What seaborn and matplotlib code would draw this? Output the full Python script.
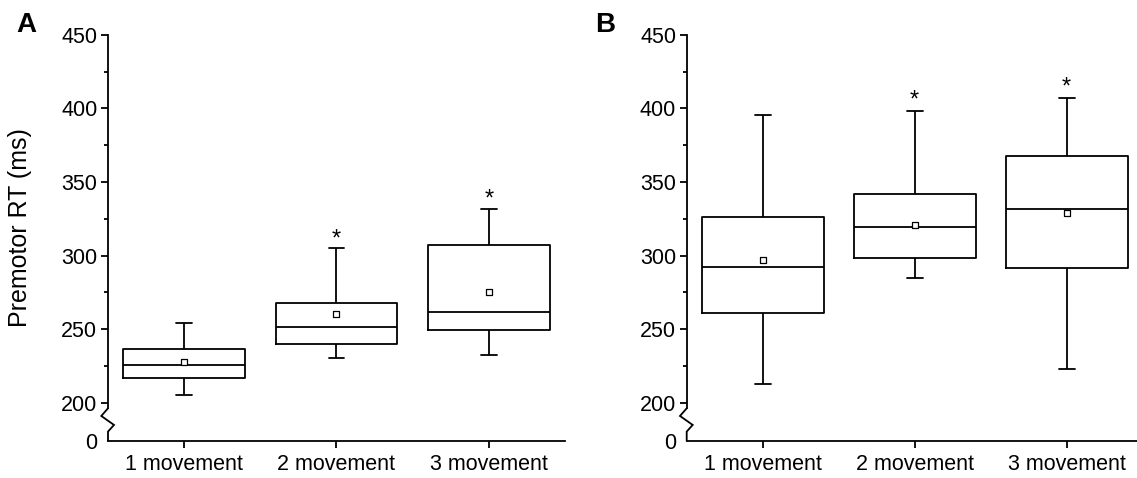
import numpy as np
import pandas as pd
import matplotlib
matplotlib.use("Agg")
import matplotlib.pyplot as plt
import matplotlib.transforms as mtransforms
import seaborn as sns

# ---------------- data ----------------
categories = ["1 movement", "2 movement", "3 movement"]

# Panel A: whisker low, Q1, median, Q3, whisker high, mean
a_low = [205.0, 230.4, 232.6]
a_q1 = [216.6, 239.9, 249.2]
a_med = [225.8, 251.6, 261.4]
a_q3 = [236.7, 267.5, 306.9]
a_high = [254.0, 305.3, 331.8]
a_mean = [227.4, 260.5, 275.0]
a_star = [None, 316.0, 343.0]

# Panel B
b_low = [212.9, 284.5, 222.7]
b_q1 = [260.9, 298.1, 291.7]
b_med = [292.2, 319.6, 331.4]
b_q3 = [326.4, 342.0, 367.6]
b_high = [395.7, 398.4, 406.8]
b_mean = [297.1, 320.7, 328.7]
b_star = [None, 410.0, 418.7]

major_ticks = [200, 250, 300, 350, 400, 450]
minor_ticks = [225, 275, 325, 375, 425]
zero_label = "0"
ylabel = "Premotor RT (ms)"
panel_labels = ["A", "B"]

# ---------------- style ----------------
sns.set_style("ticks")
plt.rcParams["font.family"] = ["Liberation Sans", "DejaVu Sans"]
plt.rcParams["text.color"] = "black"
plt.rcParams["axes.labelcolor"] = "black"
plt.rcParams["axes.linewidth"] = 1.3
plt.rcParams["xtick.major.width"] = 1.3
plt.rcParams["ytick.major.width"] = 1.3
plt.rcParams["ytick.minor.width"] = 1.3
plt.rcParams["xtick.major.size"] = 5
plt.rcParams["ytick.major.size"] = 4.7
plt.rcParams["ytick.minor.size"] = 2.6
plt.rcParams["xtick.color"] = "black"
plt.rcParams["ytick.color"] = "black"
plt.rcParams["axes.edgecolor"] = "black"

ZERO_POS = 174.2      # where the broken axis shows "0"
YTOP = 450

W, H = 1137, 478
fig = plt.figure(figsize=(W / 100, H / 100), dpi=100)

axA = fig.add_axes([108 / W, 1 - 440.7 / H, 457 / W, 406 / H])
axB = fig.add_axes([686.7 / W, 1 - 440.7 / H, 450.3 / W, 406 / H])


def long_frame(low, q1, med, q3, high):
    rows = []
    for i, c in enumerate(categories):
        for v in (low[i], q1[i], med[i], q3[i], high[i]):
            rows.append({"cond": c, "rt": v})
    return pd.DataFrame(rows)


def draw_panel(ax, low, q1, med, q3, high, mean, star, xmax):
    df = long_frame(low, q1, med, q3, high)
    sns.boxplot(data=df, x="cond", y="rt", order=categories, ax=ax,
                fill=False, color="black", linecolor="black", linewidth=1.3,
                width=0.8, whis=(0, 100), showfliers=False, capwidths=0.105)
    ax.scatter(np.arange(len(categories)), mean, marker="s", s=14,
               facecolor="white", edgecolor="black", linewidth=0.9, zorder=5)
    for i, s in enumerate(star):
        if s is not None:
            ax.text(i, s - 9, "*", ha="center", va="baseline", fontsize=17,
                    color="black")
    ax.set_xlim(-0.5, xmax)
    ax.set_ylim(ZERO_POS, YTOP)
    ax.set_yticks([ZERO_POS] + major_ticks)
    ax.set_yticklabels([zero_label] + [str(t) for t in major_ticks])
    ax.set_yticks(minor_ticks, minor=True)
    ax.yaxis.get_major_ticks()[0].tick1line.set_visible(False)
    ax.tick_params(axis="both", labelsize=15.5, direction="out",
                   labelcolor="black")
    ax.tick_params(axis="y", pad=3.0)
    ax.tick_params(axis="x", pad=4.5)
    ax.set_xlabel("")
    ax.set_ylabel("")
    sns.despine(ax=ax)
    ax.spines["bottom"].set_bounds(-0.5, xmax)

    # axis break: zig-zag on the y axis between 200 and "0"
    axw = ax.get_position().width * W
    ytop_break = 196.2
    ax.spines["left"].set_bounds(ytop_break, YTOP)
    trans = mtransforms.blended_transform_factory(ax.transAxes, ax.transData)
    xs = [0, -6.7 / axw, 6.0 / axw, 0, 0]
    ys = [ytop_break, 191.0, 184.9, 180.4, ZERO_POS]
    ax.plot(xs, ys, color="black", lw=1.3, transform=trans, clip_on=False,
            solid_joinstyle="miter")


draw_panel(axA, a_low, a_q1, a_med, a_q3, a_high, a_mean, a_star, 2.5)
draw_panel(axB, b_low, b_q1, b_med, b_q3, b_high, b_mean, b_star,
           -0.5 + 450.3 / 152)

axA.set_ylabel(ylabel, fontsize=18, color="black")
axA.yaxis.set_label_coords((31.7 - 108) / 457, 0.524)

fig.text(16 / W, 1 - 12 / H, panel_labels[0], fontsize=20, fontweight="bold",
         va="top", ha="left", color="black")
fig.text(595.5 / W, 1 - 12 / H, panel_labels[1], fontsize=20,
         fontweight="bold", va="top", ha="left", color="black")

fig.savefig("out.png", dpi=100)
